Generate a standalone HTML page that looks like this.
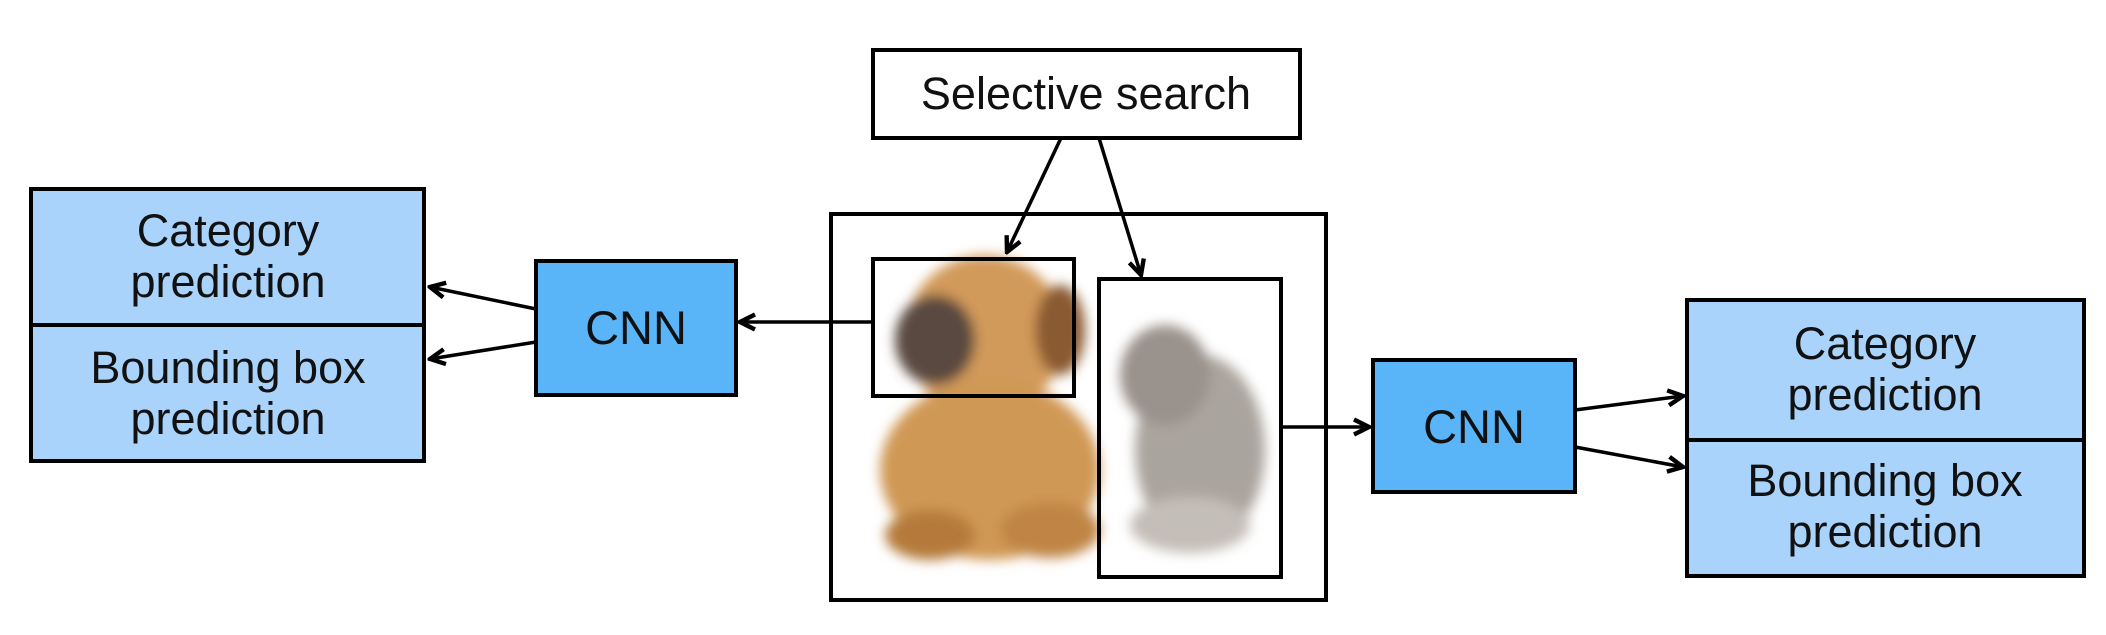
<!DOCTYPE html>
<html><head><style>
body{margin:0;background:#fff}
svg text{font-family:"Liberation Sans",sans-serif;fill:#111}
</style></head><body>
<svg width="2106" height="630" viewBox="0 0 2106 630" xmlns="http://www.w3.org/2000/svg">
<defs>
<marker id="a" markerWidth="20" markerHeight="20" refX="14" refY="8" orient="auto" markerUnits="userSpaceOnUse" viewBox="0 0 16 16">
<path d="M2,2 L14,8 L2,14" fill="none" stroke="#000" stroke-width="3.5"/>
</marker>
<filter id="b"><feGaussianBlur stdDeviation="6"/></filter>
</defs>
<!-- animals -->
<g filter="url(#b)">
<ellipse cx="985" cy="335" rx="80" ry="80" fill="#d29a5a"/>
<ellipse cx="990" cy="470" rx="110" ry="90" fill="#d09855"/>
<ellipse cx="1060" cy="330" rx="25" ry="45" fill="#8a5a30"/>
<ellipse cx="930" cy="535" rx="45" ry="25" fill="#b57a3a"/>
<ellipse cx="1050" cy="530" rx="50" ry="28" fill="#c08545"/>
<ellipse cx="935" cy="340" rx="40" ry="45" fill="#5a4a40"/>
<ellipse cx="1200" cy="450" rx="65" ry="95" fill="#aaa49e"/>
<ellipse cx="1165" cy="375" rx="45" ry="50" fill="#9a928c"/>
<ellipse cx="1190" cy="525" rx="60" ry="28" fill="#c4beb8"/>
</g>
<!-- boxes -->
<rect x="873" y="50" width="427" height="88" fill="#fff" stroke="#000" stroke-width="4"/>
<text x="1086" y="109" font-size="45" text-anchor="middle">Selective search</text>
<rect x="831" y="214" width="495" height="386" fill="none" stroke="#000" stroke-width="4"/>
<rect x="873" y="259" width="201" height="137" fill="none" stroke="#000" stroke-width="4"/>
<rect x="1099" y="279" width="182" height="298" fill="none" stroke="#000" stroke-width="4"/>

<rect x="31" y="189" width="393" height="136" fill="#a9d3fa" stroke="#000" stroke-width="4"/>
<rect x="31" y="325" width="393" height="136" fill="#a9d3fa" stroke="#000" stroke-width="4"/>
<text x="228" y="246" font-size="45" text-anchor="middle">Category</text>
<text x="228" y="297" font-size="45" text-anchor="middle">prediction</text>
<text x="228" y="383" font-size="45" text-anchor="middle">Bounding box</text>
<text x="228" y="434" font-size="45" text-anchor="middle">prediction</text>

<rect x="536" y="261" width="200" height="134" fill="#5ab4f8" stroke="#000" stroke-width="4"/>
<text x="636" y="344" font-size="47" text-anchor="middle">CNN</text>
<rect x="1373" y="360" width="202" height="132" fill="#5ab4f8" stroke="#000" stroke-width="4"/>
<text x="1474" y="443" font-size="47" text-anchor="middle">CNN</text>

<rect x="1687" y="300" width="397" height="140" fill="#a9d3fa" stroke="#000" stroke-width="4"/>
<rect x="1687" y="440" width="397" height="136" fill="#a9d3fa" stroke="#000" stroke-width="4"/>
<text x="1885" y="359" font-size="45" text-anchor="middle">Category</text>
<text x="1885" y="410" font-size="45" text-anchor="middle">prediction</text>
<text x="1885" y="496" font-size="45" text-anchor="middle">Bounding box</text>
<text x="1885" y="547" font-size="45" text-anchor="middle">prediction</text>

<g stroke="#000" stroke-width="3.5" fill="none" marker-end="url(#a)">
<line x1="1061" y1="138" x2="1007" y2="252"/>
<line x1="1099" y1="138" x2="1141" y2="275"/>
<line x1="873" y1="322" x2="740" y2="322"/>
<line x1="536" y1="309" x2="430" y2="287"/>
<line x1="536" y1="342" x2="430" y2="359"/>
<line x1="1281" y1="427" x2="1369" y2="427"/>
<line x1="1575" y1="410" x2="1683" y2="396"/>
<line x1="1575" y1="447" x2="1683" y2="467"/>
</g>
</svg>
</body></html>
